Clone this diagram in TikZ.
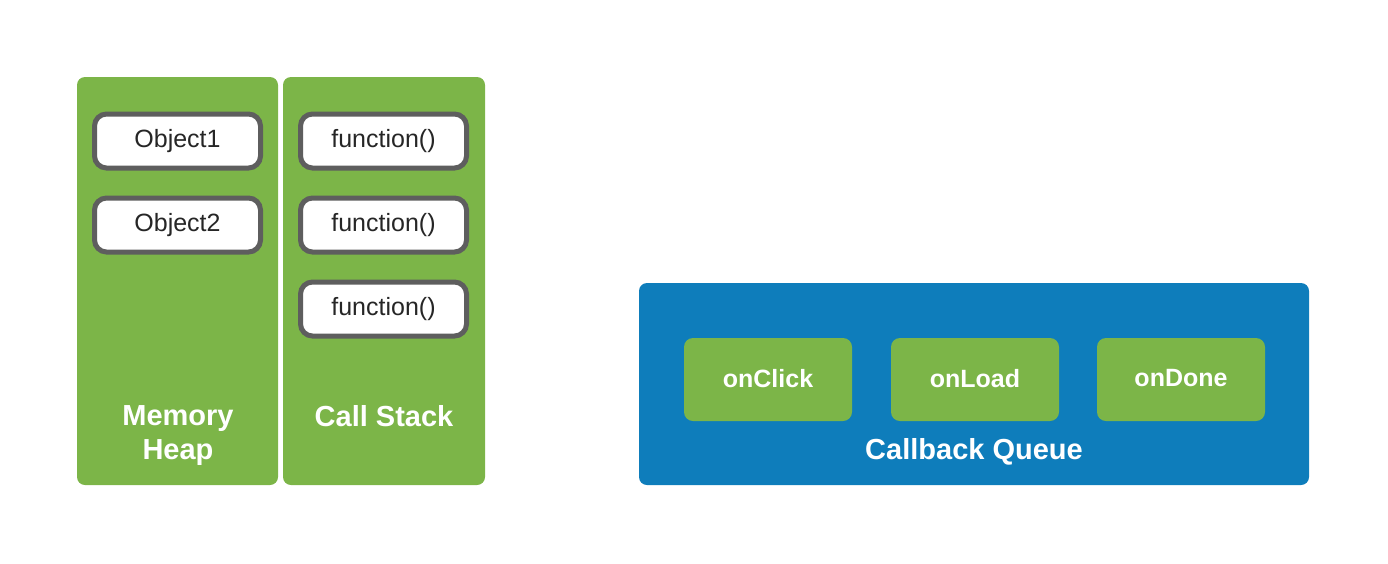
\documentclass[tikz,border=0pt]{standalone}
\usepackage{fontspec}
\setmainfont{Liberation Sans}
\definecolor{pgreen}{HTML}{7CB548}
\definecolor{pblue}{HTML}{0E7DBB}
\definecolor{pgray}{HTML}{5E5E5E}
\definecolor{ptext}{HTML}{262626}
\begin{document}
\begin{tikzpicture}[x=1pt,y=-1pt,
  panel/.style={fill=pgreen,rounded corners=8pt},
  itembox/.style={draw=pgray,line width=5pt,fill=white,rounded corners=12pt,
    minimum width=166pt,minimum height=54pt,font=\fontsize{25}{29}\selectfont,text=ptext,inner sep=0pt},
  cbbox/.style={fill=pgreen,rounded corners=9pt,minimum width=168pt,minimum height=83pt,
    font=\bfseries\fontsize{25}{29}\selectfont,text=white,inner sep=0pt},
  paneltitle/.style={font=\bfseries\fontsize{29}{34}\selectfont,text=white,align=center}]
\useasboundingbox (0,0) rectangle (1388,563);
% panels
\path[panel] (77,77) rectangle (278,485);
\path[panel] (283,77) rectangle (485,485);
\path[fill=pblue,rounded corners=8pt] (639,283) rectangle (1309,485);
% heap items
\node[itembox] (obj1) at (177.5,141) {Object1};
\node[itembox] (obj2) at (177.5,225) {Object2};
% stack items
\node[itembox] (fn1) at (383.5,141) {function()};
\node[itembox] (fn2) at (383.5,225) {function()};
\node[itembox] (fn3) at (383.5,309) {function()};
% titles
\node[paneltitle] (heap) at (178,436) {Memory\\Heap};
\node[paneltitle] (stack) at (384,416) {Call Stack};
% callbacks
\node[cbbox] (click) at (768,379.5) {\raisebox{3pt}{onClick}};
\node[cbbox] (load) at (975,379.5) {\raisebox{3pt}{onLoad}};
\node[cbbox] (done) at (1181,379.5) {\raisebox{3pt}{onDone}};
\node[paneltitle] (queue) at (974,452) {Callback Queue};
\end{tikzpicture}
\end{document}
